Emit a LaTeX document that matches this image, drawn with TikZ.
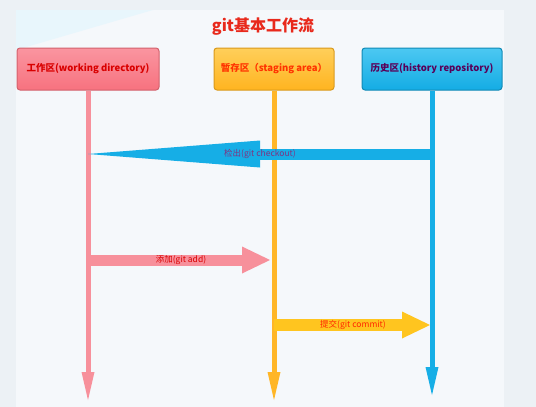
\documentclass[tikz,border=0pt]{standalone}
\usepackage{fontspec}
\setmainfont{Noto Sans CJK SC}
\usetikzlibrary{arrows.meta, positioning}
\definecolor{wdfill}{HTML}{F7727F}
\definecolor{wdtop}{HTML}{FA95A0}
\definecolor{wdline}{HTML}{F7909B}
\definecolor{stfill}{HTML}{FFB420}
\definecolor{sttop}{HTML}{FFCF5A}
\definecolor{stline}{HTML}{FFB627}
\definecolor{rpfill}{HTML}{14ACE4}
\definecolor{rptop}{HTML}{4CC8F2}
\definecolor{rpline}{HTML}{16AEE6}
\definecolor{titlered}{HTML}{E8291C}
\definecolor{slidebg}{HTML}{ECF1F5}
\definecolor{panelbg}{HTML}{F5F8FB}

\begin{document}
\begin{tikzpicture}[x=1pt,y=-1pt,
  area/.style={draw, rounded corners=3pt, line width=1pt, minimum height=42pt,
    inner sep=1pt, font=\bfseries\fontsize{9.5}{11}\selectfont},
  life/.style={line width=5pt, -{Triangle[length=28pt,width=13pt,line width=0pt]}},
  flow/.style={-{Triangle[length=#1,width=27pt,line width=0pt]}},
  lbl/.style={font=\fontsize{8.5}{10}\selectfont}]
\useasboundingbox (0,0) rectangle (536,407);
\fill[slidebg] (0,0) rectangle (536,407);
\fill[panelbg] (16,10) rectangle (504,407);
\fill[cyan!12, opacity=.6] (16,10) -- (153,10) -- (16,50) -- cycle;

\node[font=\bfseries\fontsize{16}{18}\selectfont, text=titlered] (title) at (263,27) {git基本工作流};
\node[area, minimum width=142pt, draw=wdfill!85!black, top color=wdtop, bottom color=wdfill, text=red!85!black] (wd) at (88,69) {工作区(working directory)};
\node[area, minimum width=120pt, draw=stfill!85!black, top color=sttop, bottom color=stfill, text=red!60!orange] (stage) at (274,69) {暂存区（staging area）};
\node[area, minimum width=140pt, draw=rpfill!80!black, top color=rptop, bottom color=rpfill, text=violet!70!black] (repo) at (432,69) {历史区(history repository)};

\coordinate (wd-end) at (wd.south |- 0,400);
\coordinate (stage-end) at (stage.south |- 0,400);
\coordinate (repo-end) at (repo.south |- 0,395);
\draw[life, wdline] (wd.south) -- (wd-end);
\draw[life, stline] (stage.south) -- (stage-end);
\draw[life, rpline] (repo.south) -- (repo-end);

% checkout, add, commit
\draw[flow=172pt, line width=11pt, rpline] (repo.south |- 0,154) -- (wd.south |- 0,154)
  node[midway, lbl, text=violet!60!gray] {检出(git checkout)};
\draw[flow=28pt, line width=11pt, wdline, shorten >=4pt] (wd.south |- 0,260) -- (stage.south |- 0,260)
  node[midway, lbl, text=red!85!black] {添加(git add)};
\draw[flow=28pt, line width=12pt, stline!80!yellow, shorten >=2pt] (stage.south |- 0,325) -- (repo.south |- 0,325)
  node[midway, lbl, text=red!70!orange] {提交(git commit)};
\end{tikzpicture}
\end{document}
